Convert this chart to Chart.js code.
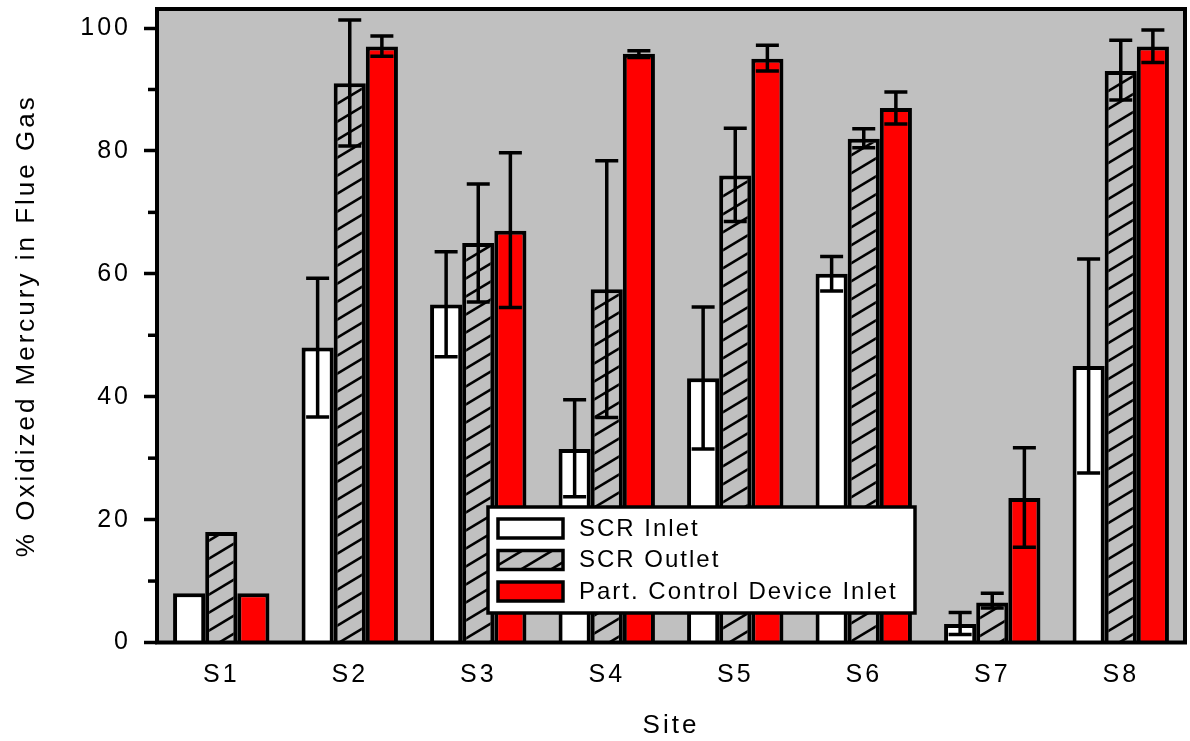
<!DOCTYPE html>
<html>
<head>
<meta charset="utf-8">
<script src="https://cdn.jsdelivr.net/npm/chart.js@4"></script>
<style>
  html, body { margin: 0; padding: 0; background: #fff; }
  #wrap { width: 1190px; height: 741px; }
</style>
</head>
<body>
<div id="wrap"><canvas id="hgChart" width="1190" height="741"></canvas></div>
<script>
// data
const sites = ["S1", "S2", "S3", "S4", "S5", "S6", "S7", "S8"];
const scrInlet  = [8, 48, 55, 31.5, 43, 60, 3, 45];
const scrOutlet = [18, 91, 65, 57.5, 76, 82, 6.5, 93];
const pcdInlet  = [8, 97, 67, 95.8, 95, 87, 23.5, 97];

const scrInletLow   = [null, 36.7, 46.5, 23.7, 31.5, 57.2, 1.3, 27.6];
const scrInletHigh  = [null, 59.3, 63.6, 39.5, 54.6, 62.8, 4.9, 62.4];
const scrOutletLow  = [null, 80.8, 55.4, 36.6, 68.5, 80.5, 5.6, 88.3];
const scrOutletHigh = [null, 101.3, 74.6, 78.4, 83.7, 83.6, 8, 98];
const pcdInletLow   = [null, 95.4, 54.5, 95.2, 93, 84.4, 15.5, 94.4];
const pcdInletHigh  = [null, 98.7, 79.7, 96.3, 97.2, 89.6, 31.7, 99.7];

const yTicks = [0, 20, 40, 60, 80, 100];
const yMinorTicks = [10, 30, 50, 70, 90];

const FONT = "Arial, 'Liberation Sans', sans-serif";
const PLOT_BG = "#c0c0c0";

// diagonal hatch for the SCR outlet bars
function makeHatch() {
  const w = 30, h = 18;
  const c = document.createElement("canvas");
  c.width = w; c.height = h;
  const g = c.getContext("2d");
  g.fillStyle = PLOT_BG;
  g.fillRect(0, 0, w, h);
  g.strokeStyle = "#000";
  g.lineWidth = 2.6;
  [-h, 0, h].forEach(k => {
    g.beginPath();
    g.moveTo(-w, 2 * h + k);
    g.lineTo(2 * w, -h + k);
    g.stroke();
  });
  return document.getElementById("hgChart").getContext("2d").createPattern(c, "repeat");
}
const hatch = makeHatch();

const errLow = [scrInletLow, scrOutletLow, pcdInletLow];
const errHigh = [scrInletHigh, scrOutletHigh, pcdInletHigh];

// gray plot area + letter spacing for axis text
const plotBg = {
  id: "plotBg",
  beforeDraw(chart) {
    const { ctx, chartArea: a } = chart;
    ctx.save();
    ctx.fillStyle = PLOT_BG;
    ctx.fillRect(a.left, a.top, a.right - a.left, a.bottom - a.top);
    ctx.restore();
    ctx.letterSpacing = "3px";
  }
};

// error bars, frame, minor ticks and legend box
const extras = {
  id: "extras",
  afterDatasetsDraw(chart) {
    const { ctx, chartArea: a, scales } = chart;
    const y = scales.y;
    ctx.save();
    ctx.letterSpacing = "0px";
    ctx.strokeStyle = "#000";
    ctx.lineWidth = 3.5;
    ctx.lineCap = "butt";

    chart.data.datasets.forEach((ds, di) => {
      const meta = chart.getDatasetMeta(di);
      meta.data.forEach((bar, i) => {
        const lo = errLow[di][i], hi = errHigh[di][i];
        if (lo == null || hi == null) return;
        const yl = y.getPixelForValue(lo), yh = y.getPixelForValue(hi);
        const cap = 11.5;
        ctx.beginPath();
        ctx.moveTo(bar.x, yl); ctx.lineTo(bar.x, yh);
        ctx.moveTo(bar.x - cap, yl); ctx.lineTo(bar.x + cap, yl);
        ctx.moveTo(bar.x - cap, yh); ctx.lineTo(bar.x + cap, yh);
        ctx.stroke();
      });
    });

    // frame
    ctx.lineWidth = 4;
    ctx.strokeRect(a.left, a.top, a.right - a.left, a.bottom - a.top);

    // minor ticks
    ctx.lineWidth = 3.5;
    yMinorTicks.forEach(v => {
      const py = y.getPixelForValue(v);
      ctx.beginPath();
      ctx.moveTo(a.left - 9, py); ctx.lineTo(a.left, py);
      ctx.stroke();
    });

    // legend
    const lx = a.left + 331, ly = a.top + 498, lw = 427, lh = 106;
    ctx.lineWidth = 3.5;
    ctx.fillStyle = "#fff";
    ctx.fillRect(lx, ly, lw, lh);
    ctx.strokeRect(lx, ly, lw, lh);
    ctx.font = "24px " + FONT;
    ctx.letterSpacing = "2px";
    ctx.textBaseline = "middle";
    ctx.textAlign = "left";
    chart.data.datasets.forEach((ds, di) => {
      const ry = ly + 12 + di * 31.5;
      ctx.fillStyle = ds.backgroundColor;
      ctx.fillRect(lx + 10, ry, 65, 19);
      ctx.strokeRect(lx + 10, ry, 65, 19);
      ctx.fillStyle = "#000";
      ctx.fillText(ds.label, lx + 91, ry + 10);
    });
    ctx.restore();
  }
};

new Chart(document.getElementById("hgChart"), {
  type: "bar",
  data: {
    labels: sites,
    datasets: [
      { label: "SCR Inlet", data: scrInlet, backgroundColor: "#ffffff" },
      { label: "SCR Outlet", data: scrOutlet, backgroundColor: hatch },
      { label: "Part. Control Device Inlet", data: pcdInlet, backgroundColor: "#ff0000" }
    ].map(d => Object.assign(d, {
      borderColor: "#000",
      borderWidth: 4,
      barPercentage: 1,
      categoryPercentage: 0.75
    }))
  },
  options: {
    responsive: false,
    animation: false,
    devicePixelRatio: 1,
    layout: { padding: { top: 9, right: 5, left: 0, bottom: 0 } },
    plugins: {
      legend: { display: false },
      tooltip: { enabled: false }
    },
    scales: {
      x: {
        grid: { display: false },
        border: { display: false },
        ticks: { color: "#000", font: { family: FONT, size: 25 }, padding: 10 },
        title: {
          display: true, text: "Site", color: "#000",
          font: { family: FONT, size: 26 }, padding: { top: 0, bottom: 0 }
        },
        afterFit(s) {
          s.height = 98.5;
          s.paddingLeft = 0; s.paddingRight = 0;
        }
      },
      y: {
        min: 0,
        max: 103.1,
        afterBuildTicks(s) { s.ticks = yTicks.map(v => ({ value: v })); },
        grid: {
          drawOnChartArea: false, drawTicks: true, tickLength: 13,
          tickWidth: 3.5, tickColor: "#000"
        },
        border: { display: false },
        ticks: { color: "#000", font: { family: FONT, size: 25 }, padding: 13 },
        title: {
          display: true, text: "% Oxidized Mercury in Flue Gas", color: "#000",
          font: { family: FONT, size: 26 }, padding: { top: 11, bottom: 0 }
        },
        afterFit(s) {
          s.width = 157;
          s.paddingTop = 0; s.paddingBottom = 0;
        }
      }
    }
  },
  plugins: [plotBg, extras]
});
</script>
</body>
</html>
